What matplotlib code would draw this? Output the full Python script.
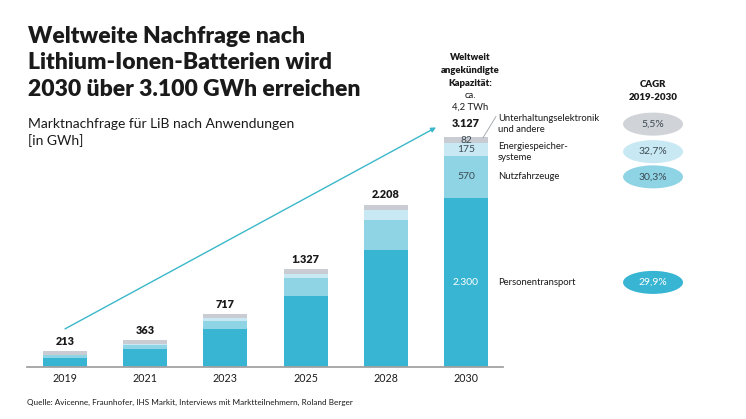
import matplotlib
matplotlib.use("Agg")
import matplotlib.pyplot as plt
from matplotlib.patches import Ellipse

# ---------------- data ----------------
years = ["2019", "2021", "2023", "2025", "2028", "2030"]
personentransport = [129, 250, 515, 970, 1585, 2300]
nutzfahrzeuge = [31, 50, 115, 243, 410, 570]
energiespeicher = [8, 14, 33, 58, 145, 175]
unterhaltung = [45, 49, 54, 56, 68, 82]
totals = [213, 363, 717, 1327, 2208, 3127]

segment_names = ["Personentransport", "Nutzfahrzeuge",
                 "Energiespeicher-\nsysteme", "Unterhaltungselektronik\nund andere"]
cagr_labels = ["29,9%", "30,3%", "32,7%", "5,5%"]

colors = ["#37b5d2", "#8fd4e5", "#c8e9f3", "#c9ccd2"]
ell_colors = ["#37b5d2", "#8fd4e5", "#c8e9f3", "#d0d3d8"]

FONT = "Lato"
plt.rcParams["font.family"] = [FONT, "DejaVu Sans"]

def de(v):
    return f"{v:,}".replace(",", ".")

W, H = 746, 419
fig = plt.figure(figsize=(W / 100, H / 100), dpi=100)

def fx(x):
    return x / W

def fy(y):
    return 1 - y / H

ax = fig.add_axes([27 / W, 52 / H, 476 / W, 267 / H])
x = list(range(len(years)))
series = [personentransport, nutzfahrzeuge, energiespeicher, unterhaltung]
bottom = [0] * len(years)
for vals, c in zip(series, colors):
    ax.bar(x, vals, width=0.55, bottom=bottom, color=c, linewidth=0, zorder=2)
    bottom = [b + v for b, v in zip(bottom, vals)]

ax.set_xlim(-0.474, 5.461)
ax.set_ylim(0, 3630)
for s in ["top", "right", "left"]:
    ax.spines[s].set_visible(False)
ax.spines["bottom"].set_color("#a3a3a3")
ax.spines["bottom"].set_linewidth(1.3)
ax.set_yticks([])
ax.set_xticks(x)
ax.set_xticklabels(years, fontsize=7.7, color="#1a1a1a")
ax.tick_params(axis="x", length=0, pad=4.5)

# totals
for i, t in enumerate(totals):
    off = 10 if i == len(totals) - 1 else 7.3
    ax.annotate(de(t), (i, t), xytext=(0, off), textcoords="offset points",
                ha="center", va="center", fontsize=7.8, fontweight="heavy",
                color="#1a1a1a")

# segment labels in last bar
last = len(years) - 1
cum = 0
seg_text_colors = ["white", "#3d4a52", "#3d4a52", "#3d4a52"]
seg_centers = []
for vals, tc in zip(series, seg_text_colors):
    v = vals[last]
    c = cum + v / 2
    seg_centers.append(c)
    ax.text(last, c, de(v), ha="center", va="center", fontsize=7.4,
            color=tc, zorder=3)
    cum += v

# right side labels and CAGR ellipses
label_y = list(seg_centers)
label_y[2] = seg_centers[2] - 30
label_y[3] = totals[last] + 175
lab_x = last + (498 - 466) / 80.2
ell_x = last + (653 - 466) / 80.2
for name, ly, cl, ec, i in zip(segment_names, label_y, cagr_labels, ell_colors, range(4)):
    ax.text(lab_x, ly, name, ha="left", va="center", fontsize=6.8,
            color="#1a1a1a", linespacing=1.3, clip_on=False)
    e = Ellipse((ell_x, ly), width=60 / 80.2, height=23 / 0.07355,
                facecolor=ec, edgecolor="none", clip_on=False, zorder=2)
    ax.add_patch(e)
    ax.text(ell_x, ly, cl, ha="center", va="center", fontsize=7.5,
            color="white" if i == 0 else "#3d4a52", clip_on=False, zorder=3)

# leader line for Unterhaltung
ax.plot([last + (483 - 466) / 80.2, last + (496 - 466) / 80.2],
        [totals[last] - 10, totals[last] + 280], color="#9aa0a6", lw=0.6,
        clip_on=False, zorder=4)

# growth arrow
ax.annotate("", xy=(last - (466 - 436) / 80.2, totals[last] + 130),
            xytext=(0, totals[0] + 305),
            arrowprops=dict(arrowstyle="-|>", color="#3ab8c9", lw=1.0,
                            mutation_scale=7, shrinkA=0, shrinkB=0),
            annotation_clip=False)

# titles
fig.text(fx(28), fy(26), "Weltweite Nachfrage nach\nLithium-Ionen-Batterien wird\n2030 über 3.100 GWh erreichen",
         ha="left", va="top", fontsize=16.5, fontweight="heavy", color="#1a1a1a",
         linespacing=1.32)
fig.text(fx(28), fy(118), "Marktnachfrage für LiB nach Anwendungen\n[in GWh]",
         ha="left", va="top", fontsize=10, color="#1a1a1a", linespacing=1.4)

fig.text(fx(470), fy(53), "Weltweit\nangekündigte\nKapazität:", ha="center", va="top",
         fontsize=6.8, fontweight="heavy", color="#1a1a1a", linespacing=1.6)
fig.text(fx(470), fy(91), "ca.\n4,2 TWh", ha="center", va="top",
         fontsize=6.8, color="#1a1a1a", linespacing=1.35)
fig.text(fx(653), fy(80), "CAGR\n2019-2030", ha="center", va="top",
         fontsize=7, fontweight="heavy", color="#1a1a1a", linespacing=1.5)

fig.text(fx(27), fy(402), "Quelle: Avicenne, Fraunhofer, IHS Markit, Interviews mit Marktteilnehmern, Roland Berger",
         ha="left", va="center", fontsize=5.9, color="#1a1a1a")

fig.savefig("out.png", dpi=100, facecolor="white")
